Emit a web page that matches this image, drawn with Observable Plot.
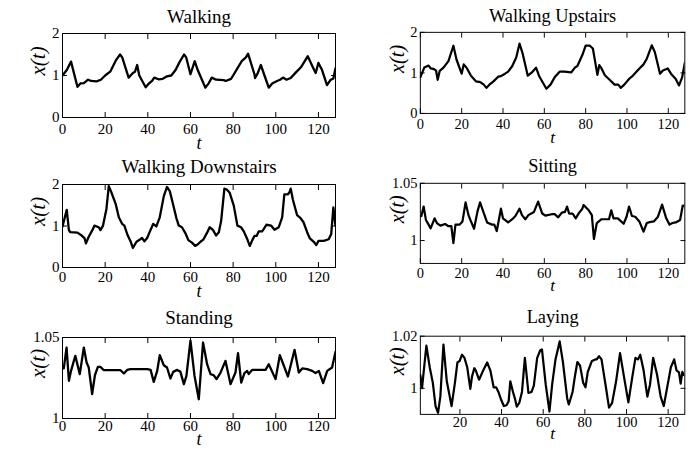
<!DOCTYPE html>
<html>
<head>
<meta charset="utf-8">
<script src="https://cdn.jsdelivr.net/npm/d3@7"></script>
<script src="https://cdn.jsdelivr.net/npm/@observablehq/plot@0.6"></script>
<style>
  html, body { margin: 0; padding: 0; background: #fff; }
  #wrap { position: relative; width: 694px; height: 451px; overflow: hidden; background: #fff; }
  #wrap > div { position: absolute; }
  svg { display: block; }
  svg text { font-family: "Liberation Serif", "DejaVu Serif", serif !important; font-variant: normal !important; }
</style>
</head>
<body>
<div id="wrap"></div>
<script>
// ---- Data ----
const titles = ["Walking", "Walking Upstairs", "Walking Downstairs", "Sitting", "Standing", "Laying"];

const walkingT = [0,2,4,7,8.4,10,12,13.4,16,18,20,22.5,25,27,28,31,33,34,35,36,39,40.5,42,43,45,47,49,51,53,55,57,58,60,62,63.4,67,68.6,70,72,75.6,76.5,79,80,82,84,86,87,90,90.3,91.5,93,94.7,96.7,98.3,100.6,102,103.4,105,107,109,112,115,118,118.7,120,121.7,124,125.6,127,128];
const walkingX = [1.0,1.13,1.33,0.73,0.81,0.82,0.9,0.87,0.86,0.9,1.0,1.1,1.36,1.5,1.43,0.95,1.06,1.09,1.25,1.0,0.72,0.81,0.87,0.95,0.91,0.92,0.98,1.0,1.13,1.33,1.5,1.43,1.03,1.34,1.13,0.71,0.82,0.95,0.9,0.89,0.87,0.92,1.0,1.17,1.34,1.43,1.52,1.03,0.94,1.05,1.25,1.0,0.71,0.81,0.87,0.9,0.95,0.9,0.94,1.05,1.21,1.46,1.13,1.06,1.3,1.13,0.77,0.89,0.93,1.17];

const upstairsT = [0,1.9,4,5,6.2,7.6,8.4,9.4,11.2,13.6,16,17.5,20,21,22.6,24.5,27,29,30.7,32,33.4,35.4,37.8,39,41,42.5,44.5,46.4,48,49.5,52,54,56,57.6,61,63,65,67.4,69.8,73,74.8,76,78.4,80,82,83.5,85.7,86.6,87.7,89.3,91.6,94,95.8,97,98.7,101,103,105.7,108,109.6,112,113.5,116,117.4,119.7,121.3,123.6,125.2,126.7,128];
const upstairsX = [0.89,1.13,1.18,1.11,1.10,1.06,0.83,1.05,1.13,1.29,1.67,1.33,0.98,1.21,1.11,0.93,0.79,0.77,0.71,0.63,0.71,0.79,0.91,0.92,0.98,1.03,1.17,1.38,1.72,1.48,0.93,1.01,1.13,0.91,0.61,0.71,0.89,1.03,1.03,1.01,1.13,1.17,1.44,1.67,1.67,1.6,0.95,1.19,1.11,0.94,0.83,0.71,0.71,0.63,0.71,0.85,0.94,1.09,1.21,1.35,1.68,1.51,0.98,1.06,1.11,0.98,0.85,0.69,0.89,1.25];

const downstairsT = [0,2,3,3.7,7,9,10.3,11,12.3,14,15,17,17.8,19,20.6,21.7,23,25,26.4,28,29,30.6,32,33,34.7,36.5,37.3,38.4,39.7,41,42.5,44,45.6,47.5,49,50.3,52,53.4,54.5,56,57.6,59,60.7,62.2,63,64.7,66,67.8,69,70.6,72,73.3,74.4,75.9,77,78.4,80.3,82,83.7,85,86.5,87.8,89,90,91,92,93.6,94.4,95.6,97.8,99.4,101.4,103,104,105.6,106.5,107,108,110,111.6,113,114.7,116,117.8,119,120,122.5,124.8,126,127,128];
const downstairsX = [0.99,1.39,0.9,0.85,0.84,0.77,0.71,0.58,0.74,0.9,1.01,0.97,0.9,1.01,1.41,1.96,1.8,1.52,1.21,1.05,1.01,0.77,0.62,0.47,0.62,0.68,0.71,0.63,0.71,0.87,1.05,0.99,1.21,1.72,1.94,1.84,1.49,1.19,1.01,0.97,0.83,0.66,0.6,0.52,0.54,0.62,0.67,0.84,0.97,0.9,0.77,0.85,1.13,1.9,1.88,1.8,1.49,1.01,0.97,0.87,0.7,0.52,0.66,0.76,0.76,0.87,0.87,0.93,1.03,1.01,0.91,0.97,1.21,1.76,1.76,1.82,1.9,1.64,1.26,1.19,1.09,0.85,0.7,0.62,0.54,0.64,0.64,0.68,0.81,1.45,1.01];

const sittingT = [0.5,1.6,2.7,4,5,6.9,8,9.7,12,13.6,15,16,17,19,20.4,21.9,23.3,24.2,26,27.6,28.9,30.5,32.3,34.7,35.8,37,39,40,42.5,44.5,46,48,49.2,50.8,52.3,55,57,59,60.5,63.6,65,66.7,68.5,70,71,72,73.7,75.2,76.8,78.4,79,81.5,83,84,85.4,87.7,90,91.3,92.4,93.5,95.6,98.4,99.8,101,102.4,104,106,108,109.6,111,113,115,117,119,120.6,122,123.6,125.7,127,128];
const sittingX = [1.0214,1.0297,1.018,1.0139,1.0106,1.0194,1.0153,1.013,1.0144,1.0125,1.0125,0.9978,1.0139,1.0139,1.0167,1.0333,1.0222,1.018,1.0103,1.025,1.0333,1.025,1.0158,1.0139,1.0139,1.0083,1.0278,1.0194,1.0158,1.0186,1.0214,1.0278,1.0222,1.0186,1.0222,1.025,1.034,1.0236,1.0217,1.023,1.023,1.0203,1.0244,1.025,1.0297,1.0236,1.0236,1.0194,1.0242,1.0278,1.031,1.0264,1.0222,1.0014,1.0153,1.0186,1.0186,1.0186,1.0264,1.0194,1.0194,1.0147,1.0208,1.0297,1.0214,1.0208,1.0167,1.0078,1.0153,1.0161,1.0167,1.0208,1.0314,1.0194,1.0139,1.0153,1.0158,1.018,1.0306,1.03];

const standingT = [0.6,1.9,3,4,6,8.1,10,11.3,12.3,13.9,15.2,16.6,17.8,19.4,27.2,28.8,30.3,31.9,39.7,41.3,42.8,44.4,45.6,47.5,49,50.6,51.9,53.8,55.3,56.9,58.1,60,61.9,63.9,65.9,67.8,69.4,70.9,72.2,74,76.4,78.8,81.1,82.3,83.8,85.3,86.6,87.3,88.9,95.2,96.7,99.9,101.9,104.1,105.7,108.8,110.8,112.4,114.7,117.1,118.6,120.2,122.2,124.1,126.4,128];
const standingX = [1.0309,1.0438,1.0233,1.0294,1.0387,1.0274,1.0438,1.0346,1.0315,1.015,1.0267,1.0319,1.0319,1.0298,1.0298,1.0278,1.03,1.0305,1.0305,1.03,1.0226,1.0294,1.0391,1.0329,1.0315,1.0247,1.0288,1.03,1.0288,1.0212,1.0263,1.048,1.0263,1.0119,1.0469,1.0335,1.0274,1.0267,1.0243,1.028,1.0356,1.0212,1.0284,1.0403,1.0222,1.028,1.0294,1.0274,1.03,1.03,1.0335,1.0243,1.0391,1.0315,1.0259,1.0424,1.0284,1.0309,1.0305,1.0294,1.028,1.0294,1.0218,1.0294,1.0315,1.0412];

const layingT = [1,1.8,3.9,5.5,7,8.3,9.5,10.6,12.1,13.7,16,17.6,18.8,19.9,21,22.2,23.5,25,25.8,26.9,27.6,29.2,31.2,33.1,34.6,36.2,37.4,38.5,39.7,41.1,42.4,43.4,44.2,45.5,46.5,47.3,48.5,49.8,51.2,52.9,54.4,55.5,57.1,58.6,59.4,61.2,63,64.3,65.9,67.9,69.5,71.5,72.3,74.1,75.2,76.4,77.7,79.2,80.3,81.4,83.4,85,85.7,86.8,88,90,91.6,93.1,95,96.9,98.9,100.9,102.7,104.3,105.5,106.6,108.2,110,111.3,112.8,114.7,116.4,117.9,119.8,121.3,122.9,124,125.2,126,126.8,127.5];
const layingX = [1.0051,1.0001,1.0164,1.0081,1.0021,0.9932,0.9906,0.9968,1.0168,1.0027,0.9932,1.0021,1.0099,1.0105,1.0129,1.0117,1.0081,0.9998,1.0045,1.0077,1.0069,1.0033,1.0069,1.0099,1.0069,1.0004,1.0004,0.9986,0.9958,0.9932,0.9935,0.995,1.0027,0.9986,0.9958,0.993,0.9944,0.9986,1.0117,0.9982,0.9986,1.001,1.0117,1.0146,1.0149,1.0015,0.9911,1.0015,1.0111,1.018,1.0099,0.9962,0.9938,0.9986,1.0045,1.0101,1.0087,1.0021,1.0004,1.0063,1.0105,1.0111,1.0111,1.0123,1.0111,1.001,0.9926,0.9944,1.0027,1.0135,1.0039,0.9946,1.0039,1.0117,1.0111,1.0129,1.0069,0.9968,1.0015,1.0117,1.0051,0.9968,0.9932,1.0015,1.0081,1.0111,1.0069,1.0061,1.0018,1.0063,1.0051];

// tick values and axis ranges
const xTicksFull = [0, 20, 40, 60, 80, 100, 120];
const xTicksLaying = [20, 40, 60, 80, 100, 120];
const yTicksWalk = [0, 1, 2];
const yTicksSit = [1, 1.05];
const yTicksStand = [1, 1.05];
const yTicksLay = [1, 1.02];
const yDomWalk = [0, 2];
const yDomSit = [0.98, 1.05];
const yDomStand = [1, 1.05];
const yDomLay = [0.99, 1.02];
const xDomFull = [0, 128];
const xDomLay = [1, 128];

// ---- Layout ----
const FONT = "Liberation Serif";
const panels = [
  {title: titles[0], t: walkingT, x: walkingX, yDom: yDomWalk, yTicks: yTicksWalk, xDom: xDomFull, xTicks: xTicksFull, left: 0,   w: 345, top: 0,   mt: 33, ph: 84, titleGap: 11, tGap: 31, tp: 11},
  {title: titles[1], t: upstairsT, x: upstairsX, yDom: yDomWalk, yTicks: yTicksWalk, xDom: xDomFull, xTicks: xTicksFull, left: 360, w: 346, top: 0,   mt: 33, ph: 84, titleGap: 11, tGap: 31, tp: 11},
  {title: titles[2], t: downstairsT, x: downstairsX, yDom: yDomWalk, yTicks: yTicksWalk, xDom: xDomFull, xTicks: xTicksFull, left: 0,   w: 345, top: 150, mt: 34, ph: 83, titleGap: 12, tGap: 29, tp: 9},
  {title: titles[3], t: sittingT, x: sittingX, yDom: yDomSit, yTicks: yTicksSit, xDom: xDomFull, xTicks: xTicksFull, left: 360, w: 346, top: 150, mt: 34, ph: 83, titleGap: 12, tGap: 29, tp: 9},
  {title: titles[4], t: standingT, x: standingX, yDom: yDomStand, yTicks: yTicksStand, xDom: xDomFull, xTicks: xTicksFull, left: 0,   w: 345, top: 300, mt: 37, ph: 81, titleGap: 14, tGap: 26, tp: 7},
  {title: titles[5], t: layingT, x: layingX, yDom: yDomLay, yTicks: yTicksLay, xDom: xDomLay, xTicks: xTicksLaying, left: 360, w: 346, top: 300, mt: 37, ph: 81, titleGap: 14, tGap: 26, tp: 7}
];

const fmt = d => String(d);
const wrap = document.getElementById("wrap");
for (const p of panels) {
  const data = p.t.map((t, i) => ({t, v: p.x[i]}));
  const mb = 33;
  const chart = Plot.plot({
    width: p.w,
    height: p.mt + p.ph + mb,
    marginLeft: 62,
    marginRight: 10,
    marginTop: p.mt,
    marginBottom: mb,
    x: {domain: p.xDom},
    y: {domain: p.yDom},
    style: {fontFamily: FONT, fontSize: "15px", color: "black", background: "transparent", overflow: "visible"},
    marks: [
      Plot.line(data, {x: "t", y: "v", stroke: "black", strokeWidth: 2.3, clip: true}),
      Plot.frame({stroke: "black", strokeWidth: 1}),
      Plot.axisX(p.xTicks, {anchor: "bottom", tickSize: -5, tickPadding: p.tp, tickFormat: fmt, label: null, fontSize: 15, fontFamily: FONT}),
      Plot.axisX(p.xTicks, {anchor: "top", tickSize: -5, tickFormat: () => "", label: null}),
      Plot.axisY(p.yTicks, {anchor: "left", tickSize: -5, tickPadding: 8, tickFormat: fmt, label: null, fontSize: 15, fontFamily: FONT}),
      Plot.axisY(p.yTicks, {anchor: "right", tickSize: -5, tickFormat: () => "", label: null}),
      Plot.text([p.title], {text: d => d, frameAnchor: "top", lineAnchor: "bottom", dy: -p.titleGap, fontSize: 19, fontFamily: FONT}),
      Plot.text(["t"], {text: d => d, frameAnchor: "bottom", lineAnchor: "bottom", dy: p.tGap, fontSize: 18, fontStyle: "italic", fontFamily: FONT}),
      Plot.text(["x(t)"], {text: d => d, frameAnchor: "left", dx: -24, rotate: -90, fontSize: 21, fontStyle: "italic", fontFamily: FONT})
    ]
  });
  const holder = document.createElement("div");
  holder.style.left = p.left + "px";
  holder.style.top = p.top + "px";
  holder.appendChild(chart);
  wrap.appendChild(holder);
}
</script>
</body>
</html>
